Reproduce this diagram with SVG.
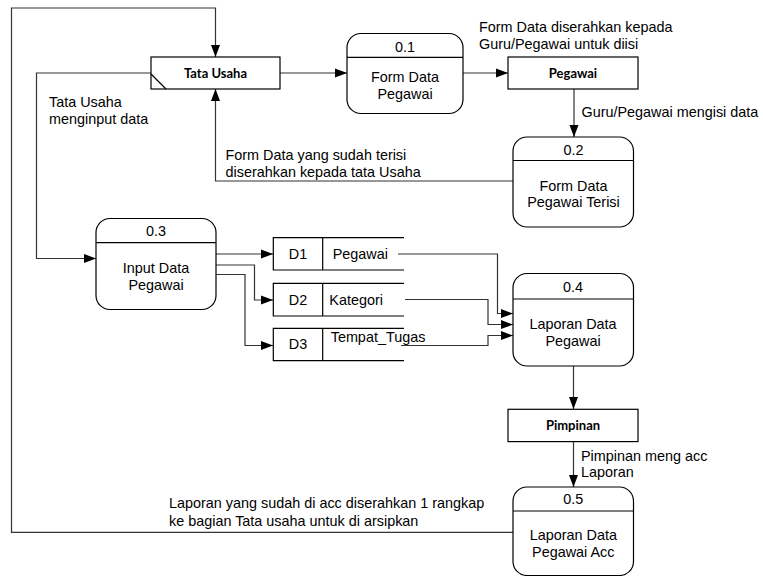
<svg xmlns="http://www.w3.org/2000/svg" width="763" height="576" viewBox="0 0 763 576">
<defs>
<marker id="ah" markerWidth="12" markerHeight="10" refX="12" refY="5" orient="auto" markerUnits="userSpaceOnUse"><path d="M0,0.5 L12,5 L0,9.5 z" fill="#000"/></marker>
<style>
.bg{fill:#fff}
.box{fill:#fff;stroke:#000;stroke-width:1.2}
.ln{fill:none;stroke:#000;stroke-width:1.2}
.cn{fill:none;stroke:#333;stroke-width:1.2}
.ar{marker-end:url(#ah)}
.t{font-family:"Liberation Sans",Arial,sans-serif;font-size:14.4px;fill:#000}
.c{text-anchor:middle}
.b{font-family:Lato,"Liberation Sans",sans-serif;font-weight:bold;font-size:13px;fill:#000;text-anchor:middle}
</style>
</defs>
<rect class="bg" x="0" y="0" width="763" height="576"/>

<g id="connectors">
<path class="cn ar" d="M513,532.3 H11.5 V8 H215.5 V57"/>
<path class="cn ar" d="M280,73 H347"/>
<path class="cn ar" d="M463,73 H508"/>
<path class="cn ar" d="M574,89 V137"/>
<path class="cn ar" d="M513,181 H215.5 V89"/>
<path class="cn ar" d="M151,73 H36.5 V258.5 H96"/>
<path class="cn ar" d="M216,254 H273"/>
<path class="cn ar" d="M216,265 H254.5 V300 H273"/>
<path class="cn ar" d="M216,274.5 H245 V345.5 H273"/>
<path class="cn ar" d="M398,254 H497.5 V313.5 H513"/>
<path class="cn ar" d="M405,299.5 H488 V324.5 H513"/>
<path class="cn ar" d="M401,345.5 H488 V335.5 H513"/>
<path class="cn ar" d="M573.5,366 V409"/>
<path class="cn ar" d="M573.5,441.5 V487"/>
<text class="t" x="49" y="107">Tata Usaha</text>
<text class="t" x="49" y="123.5">menginput data</text>
<text class="t" x="225.5" y="160">Form Data yang sudah terisi</text>
<text class="t" x="225.5" y="176.5">diserahkan kepada tata Usaha</text>
<text class="t" x="479" y="32">Form Data diserahkan kepada</text>
<text class="t" x="479" y="48.5">Guru/Pegawai untuk diisi</text>
<text class="t" x="581.5" y="117">Guru/Pegawai mengisi data</text>
<text class="t" x="581" y="461">Pimpinan meng acc</text>
<text class="t" x="581" y="477">Laporan</text>
<text class="t" x="169" y="508">Laporan yang sudah di acc diserahkan 1 rangkap</text>
<text class="t" x="169" y="525.5">ke bagian Tata usaha untuk di arsipkan</text>
</g>

<g id="tata-usaha">
<rect class="box" x="151" y="57" width="129" height="32"/>
<line class="ln" x1="151" y1="74" x2="166" y2="89"/>
<text class="b" x="215.5" y="77.5">Tata Usaha</text>
</g>

<g id="p01">
<rect class="box" x="347" y="33.5" width="116" height="80" rx="14"/>
<line class="ln" x1="347" y1="57.3" x2="463" y2="57.3"/>
<text class="t c" x="405" y="51.5">0.1</text>
<text class="t c" x="405" y="82">Form Data</text>
<text class="t c" x="405" y="99">Pegawai</text>
</g>

<g id="pegawai">
<rect class="box" x="508" y="57" width="130" height="32"/>
<text class="b" x="573" y="77.5">Pegawai</text>
</g>

<g id="p02">
<rect class="box" x="513" y="137" width="120.5" height="90" rx="14"/>
<line class="ln" x1="513" y1="160.5" x2="633.5" y2="160.5"/>
<text class="t c" x="573.5" y="155">0.2</text>
<text class="t c" x="573.5" y="190.5">Form Data</text>
<text class="t c" x="573.5" y="207">Pegawai Terisi</text>
</g>

<g id="p03">
<rect class="box" x="96" y="218.5" width="120" height="91" rx="14"/>
<line class="ln" x1="96" y1="242.7" x2="216" y2="242.7"/>
<text class="t c" x="156" y="236">0.3</text>
<text class="t c" x="156" y="273">Input Data</text>
<text class="t c" x="156" y="289.5">Pegawai</text>
</g>

<g id="d1">
<path class="ln" d="M404,237.7 H273.3 V270 H404"/>
<line class="ln" x1="322.7" y1="237.7" x2="322.7" y2="270"/>
<text class="t c" x="298" y="259">D1</text>
<text class="t" x="332.7" y="259">Pegawai</text>
</g>

<g id="d2">
<path class="ln" d="M404,283.3 H273.3 V316 H404"/>
<line class="ln" x1="322.7" y1="283.3" x2="322.7" y2="316"/>
<text class="t c" x="298" y="305">D2</text>
<text class="t" x="329.3" y="305">Kategori</text>
</g>

<g id="d3">
<path class="ln" d="M404,328.3 H273.3 V360.7 H404"/>
<line class="ln" x1="322.7" y1="328.3" x2="322.7" y2="360.7"/>
<text class="t c" x="298" y="349">D3</text>
<text class="t" x="330.7" y="341.5">Tempat_Tugas</text>
</g>

<g id="p04">
<rect class="box" x="513" y="273.5" width="120.5" height="92.5" rx="14"/>
<line class="ln" x1="513" y1="299" x2="633.5" y2="299"/>
<text class="t c" x="573" y="292">0.4</text>
<text class="t c" x="573" y="328.5">Laporan Data</text>
<text class="t c" x="573" y="346">Pegawai</text>
</g>

<g id="pimpinan">
<rect class="box" x="508" y="409.3" width="130" height="32.3"/>
<text class="b" x="573" y="430">Pimpinan</text>
</g>

<g id="p05">
<rect class="box" x="513" y="487" width="120.5" height="88.5" rx="14"/>
<line class="ln" x1="513" y1="511" x2="633.5" y2="511"/>
<text class="t c" x="573.3" y="503.5">0.5</text>
<text class="t c" x="573.3" y="540">Laporan Data</text>
<text class="t c" x="573.3" y="557">Pegawai Acc</text>
</g>
</svg>
